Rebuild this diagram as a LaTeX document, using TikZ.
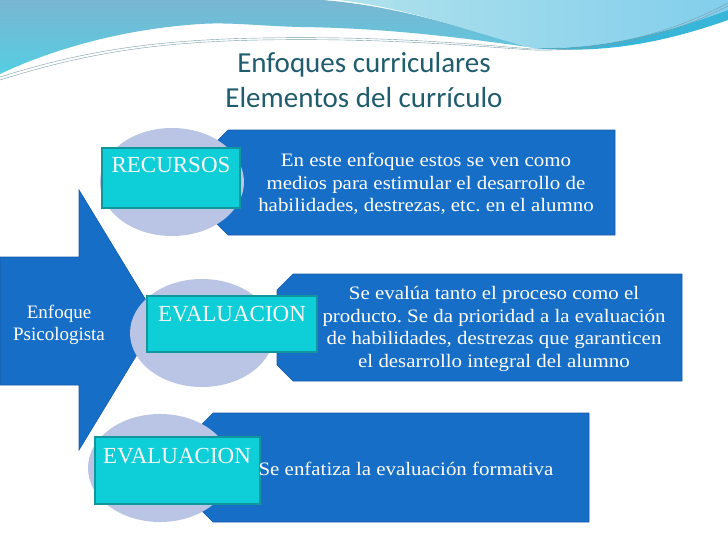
\documentclass[tikz,border=0pt]{standalone}
\usepackage{fontspec}
\setmainfont{Liberation Serif}
\newfontfamily\titlefont{Carlito}
\newfontfamily\bodyfont{Liberation Serif}[FakeStretch=1.1]
\frenchspacing

\definecolor{boxblue}{RGB}{22,110,198}
\definecolor{boxline}{RGB}{24,92,172}
\definecolor{discfill}{RGB}{186,196,228}
\definecolor{tagcyan}{RGB}{14,207,216}
\definecolor{tagline}{RGB}{18,150,158}
\definecolor{titleteal}{RGB}{31,92,110}
\definecolor{waveblue}{RGB}{122,182,210}
\definecolor{wavecyan}{RGB}{84,206,226}
\definecolor{skyA}{RGB}{176,226,236}
\definecolor{skyB}{RGB}{130,206,236}
\definecolor{bandcyan}{RGB}{56,182,218}

\begin{document}
\begin{tikzpicture}[
        x=1pt, y=-1pt,
        box/.style={fill=boxblue, draw=boxline, line width=0.6pt},
        disc/.style={fill=discfill},
        tag/.style={fill=tagcyan, draw=tagline, line width=1.5pt},
        body/.style={text=white, align=center, inner sep=0pt,
            font=\bodyfont\fontsize{19}{22.5}\selectfont},
        tagtext/.style={text=white!94!gray, inner sep=0pt,
            font=\fontsize{23}{26}\selectfont},
        wave/.style={titleteal!60, line width=0.4pt},
    ]
    \useasboundingbox (0,0) rectangle (728,546);
    \fill[white] (0,0) rectangle (728,546);
    % top swoosh
    \shade[top color=waveblue, bottom color=wavecyan]
        (0,0) -- (322,0) .. controls (400,6) and (470,30) .. (528,47)
        .. controls (450,36) and (380,28) .. (300,27)
        .. controls (260,26) and (230,22) .. (200,24)
        .. controls (110,30) and (40,55) .. (0,74) -- cycle;
    \shade[left color=skyA, right color=skyB]
        (338,0) -- (728,0) -- (728,10) .. controls (660,35) and (600,50) .. (532,48)
        .. controls (470,32) and (410,8) .. (338,0) -- cycle;
    \fill[bandcyan] (532,48) .. controls (600,50) and (660,35) .. (728,10)
        -- (728,20) .. controls (660,44) and (600,54) .. (532,48) -- cycle;
    \draw[wave] (0,80) .. controls (80,55) and (150,42) .. (260,40)
        .. controls (380,38) and (460,45) .. (532,50)
        .. controls (620,52) and (680,30) .. (728,6);
    \draw[wave] (0,77) .. controls (80,52) and (150,40) .. (260,38)
        .. controls (380,36) and (460,43) .. (532,49)
        .. controls (620,50) and (680,28) .. (728,3);

    \node[text=titleteal, align=center, inner sep=0pt,
        font=\titlefont\fontsize{29}{35}\selectfont] (title) at (364,80)
        {Enfoques curriculares\\Elementos del currículo};

    % big arrow
    \draw[box] (0,257) -- (79,257) -- (79,190) -- (158,320) -- (79,450)
        -- (79,385) -- (0,385) -- cycle;
    \node[body, font=\fontsize{19}{22.5}\selectfont] (enfoque) at (59,325)
        {Enfoque\\Psicologista};

    % bars
    \draw[box] (228,130) -- (615,130) -- (615,235) -- (228,235) -- (214,221)
        -- (214,144) -- cycle;
    \draw[box] (293,274) -- (682,274) -- (682,381) -- (293,381) -- (277,365)
        -- (277,290) -- cycle;
    \draw[box] (213,413) -- (589,413) -- (589,522) -- (213,522) -- (199,508)
        -- (199,427) -- cycle;

    % discs
    \fill[disc] (172,182) ellipse [x radius=72, y radius=54];
    \fill[disc] (202,333) ellipse [x radius=72, y radius=54];
    \fill[disc] (160,468) ellipse [x radius=72, y radius=54];

    % tags
    \draw[tag] (102,148) rectangle (240,208);
    \draw[tag] (147,296) rectangle (317,352);
    \draw[tag] (95,437) rectangle (260,504);
    \node[tagtext] (recursos) at (171,165) {RECURSOS};
    \node[tagtext] (evalA) at (232,314) {EVALUACION};
    \node[tagtext] (evalB) at (177,456) {EVALUACION};

    \node[body] (textA) at (426,184) {En este enfoque estos se ven como\\
        medios para estimular el desarrollo de\\
        habilidades, destrezas, etc. en el alumno};
    \node[body] (textB) at (494,329) {Se evalúa tanto el proceso como el\\
        producto. Se da prioridad a la evaluación\\
        de habilidades, destrezas que garanticen\\
        el desarrollo integral del alumno};
    \node[body] (textC) at (406,469) {Se enfatiza la evaluación formativa};
\end{tikzpicture}
\end{document}
